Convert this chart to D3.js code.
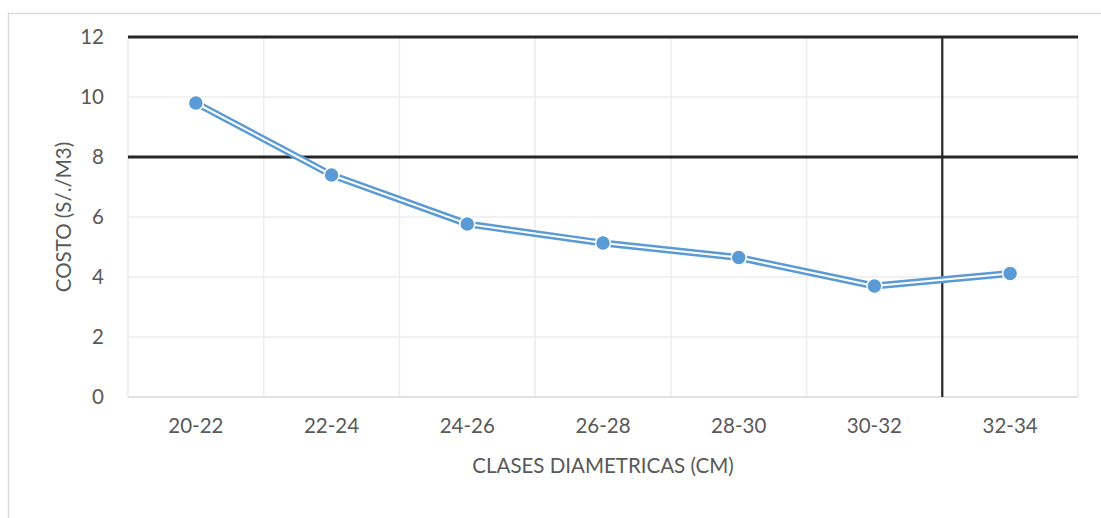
<!DOCTYPE html>
<html>
<head>
<meta charset="utf-8">
<script src="https://cdn.jsdelivr.net/npm/d3@7"></script>
<style>
  html, body { margin: 0; padding: 0; background: #fff; }
  svg { display: block; }
  text { font-family: Lato, "Open Sans", sans-serif; fill: #595959; }
</style>
</head>
<body>
<svg id="chart" width="1101" height="518"></svg>
<script>
// Cost per cubic metre by diameter class
const categories = ["20-22", "22-24", "24-26", "26-28", "28-30", "30-32", "32-34"];
const costValues = [9.8, 7.4, 5.77, 5.13, 4.65, 3.7, 4.12];
const yTicks = [0, 2, 4, 6, 8, 10, 12];
const emphasizedY = [8, 12];          // gridlines drawn heavy
const emphasizedBoundary = [6];       // category boundary drawn heavy

const svg = d3.select("#chart");
const W = 1101, H = 518;
const m = { left: 128, right: 1078, top: 37, bottom: 397 };
const FS = 20.5;

// outer chart frame
svg.append("rect")
  .attr("x", 8.5).attr("y", 13.5)
  .attr("width", W + 20).attr("height", H + 20)
  .attr("fill", "#fff").attr("stroke", "#d9d9d9").attr("stroke-width", 1.5);

const x = d3.scaleBand().domain(categories).range([m.left, m.right]).padding(0);
const y = d3.scaleLinear().domain([0, 12]).range([m.bottom, m.top]);

const grid = svg.append("g");

// vertical gridlines on category boundaries
const boundaries = d3.range(categories.length + 1);
grid.selectAll("line.v").data(boundaries).join("line")
  .attr("class", "v")
  .attr("x1", i => i < categories.length ? x(categories[i]) : x.range()[1])
  .attr("x2", i => i < categories.length ? x(categories[i]) : x.range()[1])
  .attr("y1", m.top).attr("y2", m.bottom)
  .attr("stroke", "#ececec").attr("stroke-width", 1.5);

// horizontal gridlines
grid.selectAll("line.h").data(yTicks).join("line")
  .attr("class", "h")
  .attr("x1", m.left).attr("x2", m.right)
  .attr("y1", d => y(d)).attr("y2", d => y(d))
  .attr("stroke", d => d === 0 ? "#d9d9d9" : "#ececec")
  .attr("stroke-width", 1.5);

// heavy lines
grid.selectAll("line.hy").data(emphasizedY).join("line")
  .attr("class", "hy")
  .attr("x1", m.left).attr("x2", m.right)
  .attr("y1", d => y(d)).attr("y2", d => y(d))
  .attr("stroke", "#262626").attr("stroke-width", 3);

grid.selectAll("line.hv").data(emphasizedBoundary).join("line")
  .attr("class", "hv")
  .attr("x1", i => x(categories[i])).attr("x2", i => x(categories[i]))
  .attr("y1", m.top).attr("y2", m.bottom)
  .attr("stroke", "#262626").attr("stroke-width", 2.2);

// y axis labels
const yAxis = d3.axisLeft(y).tickValues(yTicks).tickSize(0).tickPadding(24);
const gy = svg.append("g").attr("transform", `translate(${m.left},0)`).call(yAxis);
gy.select(".domain").remove();
gy.selectAll("text").attr("font-size", FS).attr("fill", "#595959")
  .style("font-family", "Lato, sans-serif");

// x axis labels
const xAxis = d3.axisBottom(x).tickSize(0).tickPadding(21.5);
const gx = svg.append("g").attr("transform", `translate(0,${m.bottom})`).call(xAxis);
gx.select(".domain").remove();
gx.selectAll("text").attr("font-size", FS).attr("fill", "#595959")
  .style("font-family", "Lato, sans-serif");

// axis titles
svg.append("text")
  .attr("x", (m.left + m.right) / 2).attr("y", 473)
  .attr("text-anchor", "middle").attr("font-size", FS)
  .text("CLASES DIAMETRICAS (CM)");

svg.append("text")
  .attr("transform", `translate(71,${(m.top + m.bottom) / 2}) rotate(-90)`)
  .attr("text-anchor", "middle").attr("font-size", FS)
  .text("COSTO (S/./M3)");

// series: double line (blue with white core) and markers
const cx = d => x(d.cat) + x.bandwidth() / 2;
const pts = categories.map((c, i) => ({ cat: c, v: costValues[i] }));
const line = d3.line().x(cx).y(d => y(d.v));

svg.append("path").datum(pts).attr("d", line)
  .attr("fill", "none").attr("stroke", "#5b9bd5").attr("stroke-width", 7)
  .attr("stroke-linejoin", "round");
svg.append("path").datum(pts).attr("d", line)
  .attr("fill", "none").attr("stroke", "#fff").attr("stroke-width", 2)
  .attr("stroke-linejoin", "round");

svg.selectAll("circle.pt").data(pts).join("circle")
  .attr("class", "pt")
  .attr("cx", cx).attr("cy", d => y(d.v)).attr("r", 7.5)
  .attr("fill", "#5b9bd5").attr("stroke", "#fff").attr("stroke-width", 1.5);
</script>
</body>
</html>
